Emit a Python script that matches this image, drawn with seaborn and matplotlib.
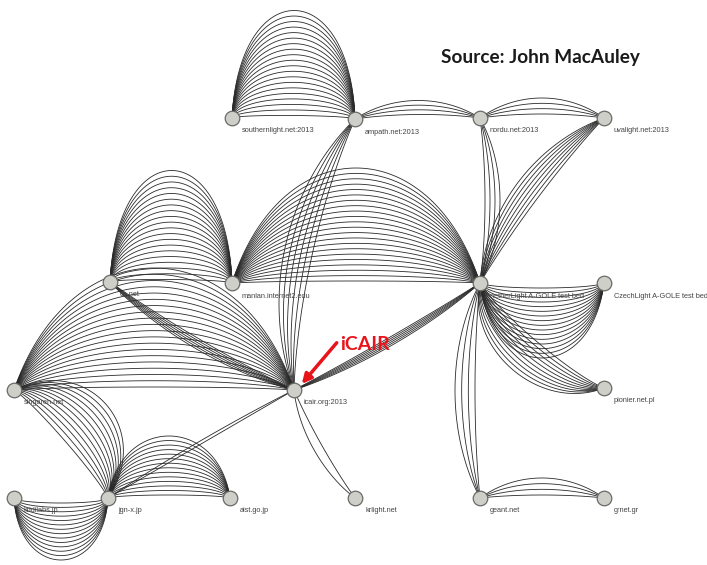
import numpy as np
import pandas as pd
import seaborn as sns
from matplotlib import pyplot as plt

# %% node data (pixel positions)
node_names = ['southernlight.net:2013', 'ampath.net:2013', 'nordu.net:2013',
              'uvalight.net:2013', 'es.net', 'manlan.internet2.edu',
              'netherLight A-GOLE test bed', 'CzechLight A-GOLE test bed',
              'singaren.net', 'icair.org:2013', 'pionier.net.pl',
              'kddilabs.jp', 'jgn-x.jp', 'aist.go.jp', 'krlight.net',
              'geant.net', 'grnet.gr']
node_x = [232, 355, 480, 604, 110, 232, 480, 604, 14, 294, 604,
          14, 108, 230, 355, 480, 604]
node_y = [118, 119, 118, 118, 282, 283, 283, 283, 390, 390, 388,
          498, 498, 498, 498, 498, 498]

# %% edge bundles: source, target, number of links, bulge range, shape
edge_src = ['southernlight.net:2013', 'ampath.net:2013', 'nordu.net:2013',
            'es.net', 'manlan.internet2.edu', 'netherLight A-GOLE test bed',
            'netherLight A-GOLE test bed', 'singaren.net', 'singaren.net',
            'kddilabs.jp', 'jgn-x.jp', 'jgn-x.jp', 'icair.org:2013',
            'es.net', 'ampath.net:2013', 'nordu.net:2013',
            'uvalight.net:2013', 'icair.org:2013',
            'netherLight A-GOLE test bed', 'geant.net']
edge_dst = ['ampath.net:2013', 'nordu.net:2013', 'uvalight.net:2013',
            'manlan.internet2.edu', 'netherLight A-GOLE test bed',
            'CzechLight A-GOLE test bed', 'pionier.net.pl', 'icair.org:2013',
            'jgn-x.jp', 'jgn-x.jp', 'aist.go.jp', 'icair.org:2013',
            'krlight.net', 'icair.org:2013', 'icair.org:2013',
            'netherLight A-GOLE test bed', 'netherLight A-GOLE test bed',
            'netherLight A-GOLE test bed', 'geant.net', 'grnet.gr']
edge_count = [20, 4, 4, 20, 22, 16, 10, 20, 12, 14, 14, 2, 2,
              6, 6, 4, 8, 6, 4, 4]
bulge_lo = [3, 4, 4, 3, 2, -5, -8, 3, 5, -5, 3, 0, -3,
            -4, -12, 5, -5, -2, -5, 3]
bulge_hi = [108, 18, 20, 112, 115, -75, -45, 122, 60, -62, 62, 3, -12,
            -14, -40, 20, -30, -10, -25, 20]
edge_shape = [0.05, 0.3, 0.3, 0.05, 0.2, 0.1, 0.2, 0.2, 0.15, 0.05, 0.1,
              0.3, 0.3, 0.3, 0.3, 0.3, 0.3, 0.3, 0.3, 0.3]

dfNodes = pd.DataFrame({'name': node_names, 'x': node_x, 'y': node_y})
pos = {n: np.array([x, y], float) for n, x, y in zip(node_names, node_x, node_y)}


def bezier(a, b, bulge, k, npts=80):
    d = b - a
    L = np.hypot(*d)
    u = d / L
    nrm = np.array([u[1], -u[0]])
    h = bulge / 0.75
    c1 = a + u * L * k + nrm * h
    c2 = b - u * L * k + nrm * h
    t = np.linspace(0, 1, npts)[:, None]
    return ((1 - t) ** 3 * a + 3 * (1 - t) ** 2 * t * c1
            + 3 * (1 - t) * t ** 2 * c2 + t ** 3 * b)


sns.set_style('white')
fig = plt.figure(figsize=(7.07, 5.65), dpi=100)
ax = fig.add_axes([0, 0, 1, 1])

for s, t, n, lo, hi, k in zip(edge_src, edge_dst, edge_count,
                              bulge_lo, bulge_hi, edge_shape):
    for b in np.linspace(lo, hi, n):
        p = bezier(pos[s], pos[t], b, k)
        ax.plot(p[:, 0], p[:, 1], color='#2a2a2a', lw=0.6, zorder=1)

sns.scatterplot(data=dfNodes, x='x', y='y', ax=ax, s=110, color='#cfcfca',
                edgecolor='#6a6a66', linewidth=0.9, zorder=3, legend=False)
ax.set_xlim(0, 707)
ax.set_ylim(565, 0)
ax.axis('off')

for _, r in dfNodes.iterrows():
    ax.text(r.x + 10, r.y + 13, r['name'], fontsize=5.3,
            family='Liberation Sans', color='#444444', va='center',
            ha='left', zorder=4)

ax.text(441, 57, 'Source: John MacAuley', fontsize=13.7, family='Lato',
        fontweight='bold', color='#1a1a1a', va='center', ha='left')

ax.annotate('iCAIR', xy=(300, 386), xytext=(340, 344), fontsize=14,
            family='Lato', fontweight='bold', color='#e8141b',
            ha='left', va='center', zorder=5,
            arrowprops=dict(arrowstyle='-|>', color='#e8141b', lw=2.5,
                            mutation_scale=14, shrinkA=0,
                            relpos=(0, 0.8)))

fig.savefig('out.png', dpi=100)
